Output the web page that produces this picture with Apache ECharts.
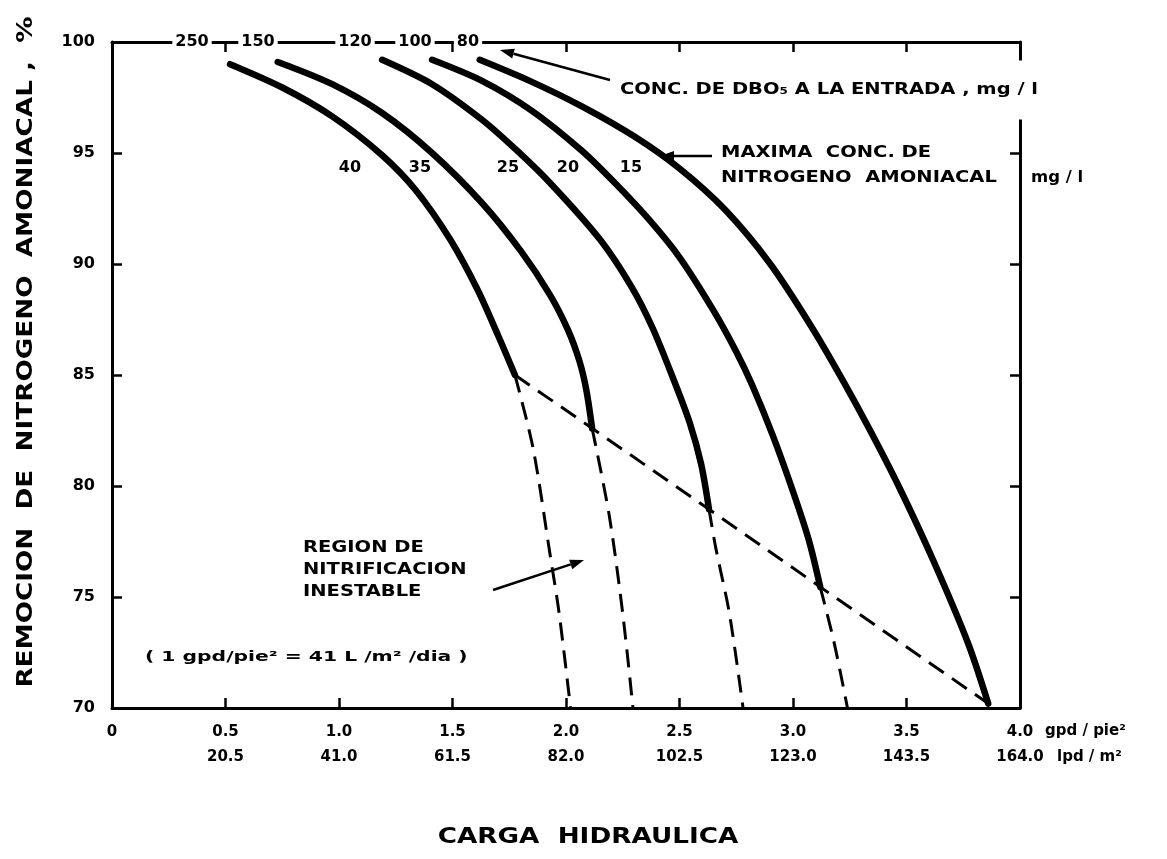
<!DOCTYPE html>
<html>
<head>
<meta charset="utf-8">
<script src="https://cdn.jsdelivr.net/npm/echarts@6/dist/echarts.min.js"></script>
<style>
  html, body { margin: 0; padding: 0; background: #fff; }
  #chart { width: 1167px; height: 859px; }
</style>
</head>
<body>
<div id="chart"></div>
<script>
// Hydraulic load (gpd/ft2) vs. ammonia-nitrogen removal (%)
const gpdTicks = ['0', '0.5', '1.0', '1.5', '2.0', '2.5', '3.0', '3.5', '4.0'];
const lpdTicks = ['', '20.5', '41.0', '61.5', '82.0', '102.5', '123.0', '143.5', '164.0'];

// influent BOD5 (mg/l) and max ammonia-N (mg/l) for each curve
const bodLabels = ['250', '150', '120', '100', '80'];
const nh3Labels = ['40', '35', '25', '20', '15'];

// stable nitrification curves [load, removal]
const curve40 = [[0.52, 99.0], [0.75, 97.95], [0.97, 96.65], [1.19, 94.9], [1.34, 93.3], [1.49, 91.1], [1.61, 88.85], [1.70, 86.8], [1.775, 85.0]];
const curve35 = [[0.73, 99.1], [0.97, 98.1], [1.19, 96.8], [1.41, 95.0], [1.63, 92.75], [1.80, 90.6], [1.93, 88.6], [2.01, 87.0], [2.06, 85.6], [2.09, 84.3], [2.115, 82.6]];
const curve25 = [[1.19, 99.2], [1.41, 98.1], [1.63, 96.5], [1.78, 95.15], [1.93, 93.65], [2.15, 91.1], [2.29, 88.95], [2.38, 87.15], [2.47, 84.9], [2.545, 82.85], [2.595, 81.0], [2.63, 78.95]];
const curve20 = [[1.41, 99.2], [1.63, 98.25], [1.85, 96.9], [2.07, 95.1], [2.22, 93.6], [2.37, 91.95], [2.50, 90.3], [2.65, 87.9], [2.75, 86.05], [2.82, 84.55], [2.91, 82.3], [3.00, 79.75], [3.07, 77.55], [3.12, 75.45]];
const curve15 = [[1.62, 99.2], [1.84, 98.25], [2.07, 97.1], [2.30, 95.75], [2.50, 94.3], [2.70, 92.45], [2.90, 90.0], [3.08, 87.2], [3.22, 84.75], [3.34, 82.5], [3.47, 79.9], [3.62, 76.6], [3.77, 72.95], [3.86, 70.2]];

// unstable continuation (dashed)
const unstable40 = [[1.775, 85.0], [1.855, 81.7], [1.93, 76.9], [1.97, 74.25], [2.02, 70.0]];
const unstable35 = [[2.115, 82.6], [2.19, 78.7], [2.25, 74.25], [2.295, 70.0]];
const unstable25 = [[2.63, 78.95], [2.66, 77.2], [2.72, 74.25], [2.78, 70.0]];
const unstable20 = [[3.12, 75.45], [3.18, 73.0], [3.24, 70.0]];
// boundary through the end of each solid curve
const boundary = [[1.775, 85.0], [2.115, 82.6], [2.63, 78.95], [3.12, 75.45], [3.86, 70.2]];

const FONT = 'DejaVu Sans';
const chart = echarts.init(document.getElementById('chart'), null, { renderer: 'canvas' });

function solid(data) {
  return { type: 'line', data, symbol: 'none', smooth: 0.3, silent: true,
    lineStyle: { color: '#000', width: 6.5, cap: 'round', join: 'round' } };
}
function dashed(data, smooth) {
  return { type: 'line', data, symbol: 'none', smooth: smooth, silent: true,
    lineStyle: { color: '#000', width: 3, type: [18, 10] } };
}

const axisLine = { show: true, onZero: false, lineStyle: { color: '#000', width: 3 } };
const tickIn = { show: true, inside: true, length: 10, lineStyle: { color: '#000', width: 2.5 } };

function txt(x, y, text, size, extra, sx) {
  return {
    type: 'text', x, y, z: 100, scaleX: sx || 1,
    style: Object.assign({ text, fill: '#000', font: `bold ${size}px "${FONT}"`,
      align: 'center', verticalAlign: 'middle' }, extra || {})
  };
}
function arrow(x1, y1, x2, y2) {
  const a = Math.atan2(y2 - y1, x2 - x1), L = 14, W = 5;
  const bx = x2 - L * Math.cos(a), by = y2 - L * Math.sin(a);
  return [
    { type: 'line', z: 100, shape: { x1, y1, x2: bx, y2: by }, style: { stroke: '#000', lineWidth: 2.5 } },
    { type: 'polygon', z: 100, shape: { points: [[x2, y2],
      [bx + W * Math.sin(a), by - W * Math.cos(a)], [bx - W * Math.sin(a), by + W * Math.cos(a)]] },
      style: { fill: '#000' } }
  ];
}

const bodX = [192, 258, 355, 415, 468];
const nh3X = [350, 420, 508, 568, 631];
const graphics = [];
bodLabels.forEach((t, i) => graphics.push(txt(bodX[i], 42, t, 16, { backgroundColor: '#fff', padding: [4, 3] })));
nh3Labels.forEach((t, i) => graphics.push(txt(nh3X[i], 168, t, 16)));

graphics.push(txt(616, 90, 'CONC. DE DBO₅ A LA ENTRADA , mg / l', 15,
  { align: 'left', backgroundColor: '#fff', padding: [22, 6, 22, 3] }, 1.3));
graphics.push(...arrow(610, 80, 500, 50));
graphics.push(txt(721, 153, 'MAXIMA  CONC. DE', 15, { align: 'left' }, 1.3));
graphics.push(txt(721, 178, 'NITROGENO  AMONIACAL', 15, { align: 'left' }, 1.3));
graphics.push(txt(1031, 178, 'mg / l', 15, { align: 'left' }, 1.1));
graphics.push(...arrow(712, 156, 660, 156));

graphics.push(txt(303, 548, 'REGION DE', 15, { align: 'left' }, 1.3));
graphics.push(txt(303, 570, 'NITRIFICACION', 15, { align: 'left' }, 1.3));
graphics.push(txt(303, 592, 'INESTABLE', 15, { align: 'left' }, 1.3));
graphics.push(...arrow(493, 590, 584, 560));
graphics.push(txt(145, 657, '( 1 gpd/pie² = 41 L /m² /dia )', 14, { align: 'left' }, 1.45));

graphics.push(txt(1045, 731, 'gpd / pie²', 15, { align: 'left' }));
graphics.push(txt(1057, 757, 'lpd / m²', 15, { align: 'left' }));

graphics.push(txt(588, 838, 'CARGA  HIDRAULICA', 21, null, 1.25));
const yTitle = txt(27, 352, 'REMOCION  DE  NITROGENO  AMONIACAL ,  %', 21, null, 1.25);
yTitle.rotation = Math.PI / 2;
graphics.push(yTitle);

chart.setOption({
  animation: false,
  backgroundColor: '#fff',
  grid: { left: 112, right: 147, top: 42, bottom: 151 },
  xAxis: [
    { type: 'value', position: 'bottom', min: 0, max: 4, interval: 0.5,
      axisLine, axisTick: tickIn, splitLine: { show: false },
      axisLabel: { margin: 12, color: '#000', fontFamily: FONT, fontWeight: 'bold', fontSize: 15, lineHeight: 25,
        formatter: v => { const i = Math.round(v / 0.5); return gpdTicks[i] + '\n' + lpdTicks[i]; } } },
    { type: 'value', position: 'top', min: 0, max: 4, interval: 0.5,
      axisLine, axisTick: tickIn, splitLine: { show: false }, axisLabel: { show: false } }
  ],
  yAxis: [
    { type: 'value', position: 'left', min: 70, max: 100, interval: 5,
      axisLine, axisTick: tickIn, splitLine: { show: false },
      axisLabel: { margin: 17, color: '#000', fontFamily: FONT, fontWeight: 'bold', fontSize: 16 } },
    { type: 'value', position: 'right', min: 70, max: 100, interval: 5,
      axisLine, axisTick: tickIn, splitLine: { show: false }, axisLabel: { show: false } }
  ],
  series: [
    solid(curve40), solid(curve35), solid(curve25), solid(curve20), solid(curve15),
    dashed(unstable40, 0.3), dashed(unstable35, 0.3), dashed(unstable25, 0.3), dashed(unstable20, 0.3),
    dashed(boundary, false)
  ],
  graphic: graphics
});
</script>
</body>
</html>
